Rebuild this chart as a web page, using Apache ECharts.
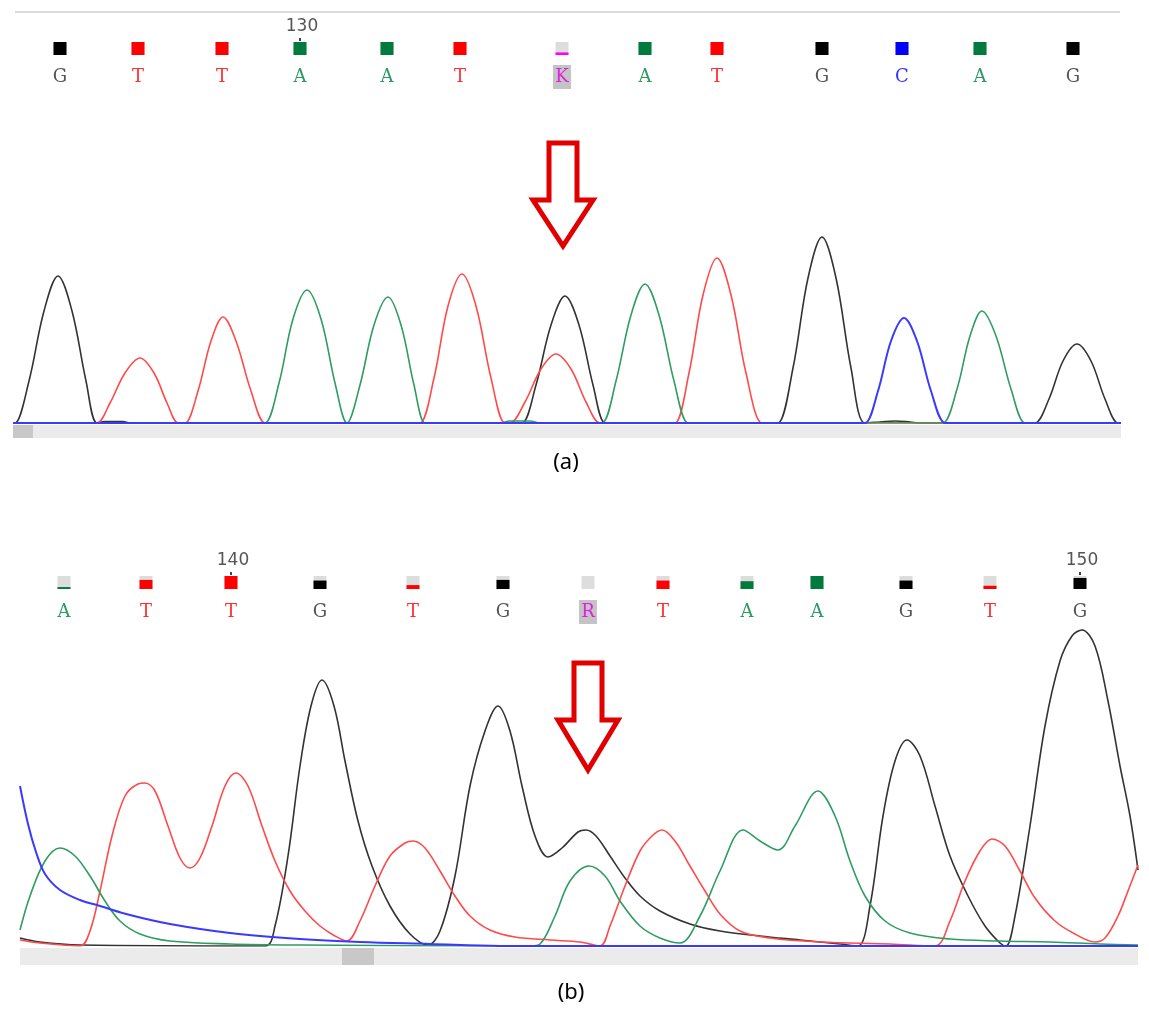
<!DOCTYPE html>
<html>
<head>
<meta charset="utf-8">
<script src="https://cdn.jsdelivr.net/npm/echarts@6/dist/echarts.min.js"></script>
<style>
  html, body { margin: 0; padding: 0; background: #fff; }
  #main { width: 1149px; height: 1014px; }
</style>
</head>
<body>
<div id="main"></div>
<script>
// ---- panel (a): base calls ----
var basesA = ['G', 'T', 'T', 'A', 'A', 'T', 'K', 'A', 'T', 'G', 'C', 'A', 'G'];
var posA = [60, 138, 222, 300, 387, 460, 562, 645, 717, 822, 902, 980, 1073];
var qualA = [1, 1, 1, 1, 1, 1, 0.2, 1, 1, 1, 1, 1, 1];
var firstA = 127;

// ---- panel (a): traces [scan, intensity] ----
var traceA_G = [[13, 0], [15, 0], [29, 42], [44, 112], [58, 147], [72, 112], [86, 42], [97, 0],
  [105, 1.5], [123, 1.5], [130, 0], [136, 0],
  [516, 0], [522, 0], [536, 38], [551, 98], [565, 127], [579, 98], [593, 38], [605, 0], [611, 0],
  [772, 0], [778, 0], [793, 55], [808, 145], [822, 186], [836, 145], [851, 55], [865, 0],
  [880, 1], [895, 2], [910, 1], [920, 0], [926, 0],
  [1029, 0], [1035, 0], [1049, 24], [1063, 62], [1077, 79], [1091, 62], [1105, 24], [1118, 0], [1121, 0]];
var traceA_T = [[13, 0], [91, 0], [97, 0], [110, 20], [125, 50], [140, 65], [154, 50], [167, 20], [178, 0],
  [181, 0], [185, 0], [198, 32], [211, 82], [223, 106], [236, 82], [251, 32], [265, 0], [271, 0],
  [414, 0], [420, 0], [434, 45], [448, 117], [462, 149], [476, 117], [491, 45], [505, 0],
  [510, 0], [525, 21], [541, 54], [556, 69], [571, 54], [586, 21], [600, 0], [606, 0],
  [669, 0], [675, 0], [689, 50], [703, 128], [717, 165], [731, 128], [746, 50], [762, 0], [768, 0], [1121, 0]];
var traceA_A = [[13, 0], [259, 0], [265, 0], [279, 40], [293, 104], [307, 133], [321, 104], [335, 40], [347, 0],
  [360, 38], [374, 98], [388, 126], [401, 98], [414, 38], [425, 0], [431, 0],
  [494, 0], [500, 0], [510, 2], [530, 2], [540, 0], [546, 0],
  [596, 0], [602, 0], [616, 42], [631, 108], [645, 139], [659, 108], [674, 42], [688, 0], [694, 0],
  [937, 0], [943, 0], [957, 34], [970, 87], [982, 112], [996, 87], [1011, 34], [1025, 0], [1031, 0], [1121, 0]];
var traceA_C = [[13, 0], [859, 0], [865, 0], [878, 32], [891, 82], [904, 105], [917, 82], [931, 32], [945, 0],
  [951, 0], [1121, 0]];

// ---- panel (b): base calls ----
var basesB = ['A', 'T', 'T', 'G', 'T', 'G', 'R', 'T', 'A', 'A', 'G', 'T', 'G'];
var posB = [64, 146, 231, 320, 413, 503, 588, 663, 747, 817, 906, 990, 1080];
var qualB = [0.15, 0.7, 1, 0.65, 0.3, 0.7, 0, 0.65, 0.6, 1, 0.65, 0.25, 0.85];
var firstB = 138;

// ---- panel (b): traces [scan, intensity] ----
var traceB_G = [[20, 8], [40, 4], [80, 1], [265, 0], [275, 20], [288, 90], [300, 180], [311, 240],
  [322, 266], [334, 240], [345, 185], [358, 125], [372, 80], [390, 40], [410, 12], [428, 1],
  [440, 15], [455, 70], [470, 160], [485, 215], [498, 240], [510, 215], [522, 160], [535, 110],
  [548, 89], [562, 98], [578, 114], [586, 116], [596, 110], [610, 90], [625, 68], [640, 50],
  [660, 35], [690, 22], [720, 15], [760, 10], [800, 6], [840, 2], [858, 0], [870, 40],
  [883, 130], [895, 185], [907, 206], [920, 190], [935, 140], [950, 90], [968, 50], [985, 20],
  [1000, 3], [1006, 0], [1015, 30], [1030, 120], [1045, 220], [1060, 285], [1072, 310],
  [1082, 316], [1095, 300], [1108, 245], [1120, 180], [1130, 130], [1138, 76]];
var traceB_T = [[20, 6], [40, 3], [80, 0], [90, 15], [100, 55], [112, 110], [125, 150], [138, 162],
  [145, 163], [155, 155], [168, 120], [180, 88], [190, 78], [200, 88], [212, 120], [225, 160],
  [236, 173], [248, 160], [262, 120], [275, 85], [290, 55], [305, 35], [320, 20], [335, 10],
  [347, 5], [360, 25], [375, 60], [390, 90], [405, 103], [413, 105], [425, 98], [440, 75],
  [455, 50], [470, 30], [490, 16], [515, 9], [550, 6], [580, 4], [600, 0], [610, 20], [625, 60],
  [640, 95], [652, 110], [662, 116], [675, 105], [690, 80], [705, 55], [720, 32], [740, 15],
  [770, 8], [820, 4], [890, 2], [935, 0], [950, 25], [965, 65], [980, 95], [992, 107],
  [1005, 100], [1020, 75], [1035, 48], [1055, 25], [1075, 12], [1095, 4], [1105, 8],
  [1118, 30], [1128, 55], [1138, 81]];
var traceB_A = [[20, 16], [30, 50], [45, 85], [60, 98], [75, 90], [90, 70], [105, 45], [120, 25],
  [140, 12], [170, 5], [230, 2], [300, 1], [530, 0], [540, 2], [555, 30], [570, 65], [589, 80],
  [605, 70], [620, 45], [640, 20], [660, 8], [680, 3], [700, 30], [720, 75], [743, 116],
  [760, 105], [778, 96], [795, 120], [818, 155], [835, 130], [850, 85], [865, 50], [885, 25],
  [910, 13], [950, 7], [1000, 5], [1050, 4], [1100, 2], [1138, 1]];
var traceB_C = [[20, 160], [28, 122], [36, 94], [45, 72], [60, 56], [80, 46], [100, 40], [130, 31],
  [170, 22], [230, 13], [300, 7], [360, 4], [430, 2], [500, 0], [1138, 0]];

var baseColor = { G: '#555555', T: '#ff3030', A: '#2a9a60', C: '#3535ff', K: '#e020e0', R: '#e020e0' };
var qualColor = { G: '#000000', T: '#ff0000', A: '#007a3d', C: '#0000ff', K: '#ff00ff', R: '#ff00ff' };
var traceColor = { G: '#333333', T: '#ff4a4a', A: '#2f9c62', C: '#3a3aff' };

function makeRender(bases, first, boxY, letterY, numY) {
    return function (params, api) {
        var i = params.dataIndex;
        var b = bases[i];
        var q = api.value(1);
        var px = api.coord([api.value(0), 0])[0];
        var kids = [];
        kids.push({ type: 'rect', shape: { x: px - 6.5, y: boxY, width: 13, height: 13 }, style: { fill: '#dddddd' } });
        if (q > 0) {
            kids.push({ type: 'rect', shape: { x: px - 6.5, y: boxY + 13 * (1 - q), width: 13, height: 13 * q }, style: { fill: qualColor[b] } });
        }
        if (b === 'K' || b === 'R') {
            kids.push({ type: 'rect', shape: { x: px - 9, y: letterY - 12, width: 18, height: 24 }, style: { fill: '#c4c4c4' } });
        }
        kids.push({
            type: 'text', x: px, y: letterY,
            style: { text: b, fill: baseColor[b], font: '18px "DejaVu Serif"', align: 'center', verticalAlign: 'middle' }
        });
        if ((first + i) % 10 === 0) {
            kids.push({
                type: 'text', x: px + 2, y: numY,
                style: { text: String(first + i), fill: '#555', font: '17px "DejaVu Sans"', align: 'center', verticalAlign: 'middle' }
            });
            kids.push({ type: 'rect', shape: { x: px - 1, y: boxY - 4, width: 2, height: 3 }, style: { fill: '#444' } });
        }
        return { type: 'group', children: kids };
    };
}

function trace(name, data, grid) {
    return {
        type: 'line', name: name, data: data, xAxisIndex: grid, yAxisIndex: grid,
        smooth: 0.35, showSymbol: false, symbol: 'none', silent: true,
        lineStyle: { color: traceColor[name], width: name === 'C' ? 2 : 1.6 },
        z: name === 'C' ? 5 : 3
    };
}

var chart = echarts.init(document.getElementById('main'));
var option = {
    animation: false,
    backgroundColor: '#ffffff',
    grid: [
        { left: 13, right: 28, top: 223, height: 200 },
        { left: 20, right: 11, top: 616, height: 330 }
    ],
    xAxis: [
        { type: 'value', gridIndex: 0, min: 13, max: 1121, show: false, splitLine: { show: false } },
        { type: 'value', gridIndex: 1, min: 20, max: 1138, show: false, splitLine: { show: false } }
    ],
    yAxis: [
        { type: 'value', gridIndex: 0, min: 0, max: 200, show: false, splitLine: { show: false } },
        { type: 'value', gridIndex: 1, min: 0, max: 330, show: false, splitLine: { show: false } }
    ],
    series: [
        trace('G', traceA_G, 0), trace('T', traceA_T, 0), trace('A', traceA_A, 0), trace('C', traceA_C, 0),
        trace('G', traceB_G, 1), trace('T', traceB_T, 1), trace('A', traceB_A, 1), trace('C', traceB_C, 1),
        {
            type: 'custom', xAxisIndex: 0, yAxisIndex: 0, clip: false, silent: true,
            renderItem: makeRender(basesA, firstA, 42, 77, 27),
            data: posA.map(function (x, i) { return [x, qualA[i]]; })
        },
        {
            type: 'custom', xAxisIndex: 1, yAxisIndex: 1, clip: false, silent: true,
            renderItem: makeRender(basesB, firstB, 576, 612, 561),
            data: posB.map(function (x, i) { return [x, qualB[i]]; })
        }
    ]
};
chart.setOption(option);

// arrows point at the ambiguous base of each panel
function arrow(cx, top, headY, tip) {
    return {
        type: 'polygon', z: 10, silent: true,
        shape: { points: [[cx - 14, top], [cx + 14, top], [cx + 14, headY], [cx + 30, headY], [cx, tip], [cx - 30, headY], [cx - 14, headY]] },
        style: { fill: '#ffffff', stroke: '#e00000', lineWidth: 5, lineJoin: 'miter' }
    };
}
var ax = chart.convertToPixel({ gridIndex: 0 }, [posA[basesA.indexOf('K')], 0])[0];
var bx = chart.convertToPixel({ gridIndex: 1 }, [posB[basesB.indexOf('R')], 0])[0];

chart.setOption({
    graphic: [
        { type: 'line', shape: { x1: 15, y1: 12, x2: 1120, y2: 12 }, style: { stroke: '#dcdcdc', lineWidth: 2 } },
        { type: 'rect', shape: { x: 13, y: 425, width: 1108, height: 13 }, style: { fill: '#ebebeb' } },
        { type: 'rect', shape: { x: 13, y: 425, width: 20, height: 13 }, style: { fill: '#c8c8c8' } },
        { type: 'rect', shape: { x: 20, y: 948, width: 1118, height: 17 }, style: { fill: '#ebebeb' } },
        { type: 'rect', shape: { x: 342, y: 948, width: 32, height: 17 }, style: { fill: '#c8c8c8' } },
        { type: 'text', x: 566, y: 463, style: { text: '(a)', fill: '#000', font: '22px "Noto Sans"', align: 'center', verticalAlign: 'middle' } },
        { type: 'text', x: 571, y: 993, style: { text: '(b)', fill: '#000', font: '22px "Noto Sans"', align: 'center', verticalAlign: 'middle' } },
        arrow(ax + 1, 143, 200, 246),
        arrow(bx, 663, 720, 770)
    ]
});
</script>
</body>
</html>
